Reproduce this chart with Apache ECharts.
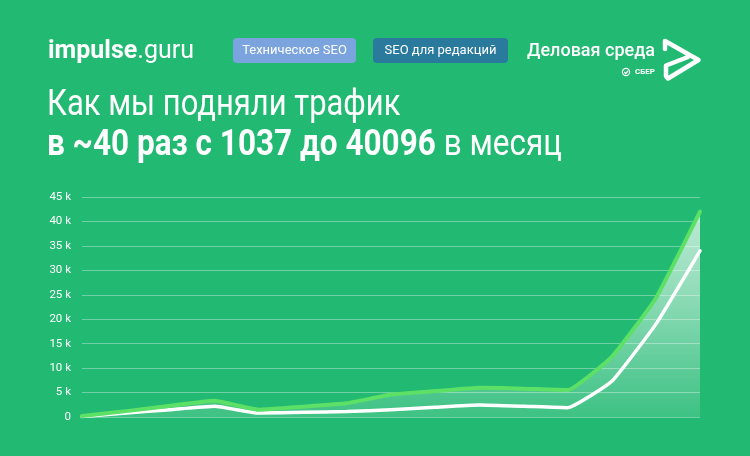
<!DOCTYPE html>
<html><head><meta charset="utf-8">
<script src="https://cdn.jsdelivr.net/npm/echarts@6/dist/echarts.min.js"></script>
<style>html,body{margin:0;padding:0;background:#22b972;}#c{width:750px;height:456px;}</style>
</head><body><div id="c"></div>
<script>
const categories = ['1','2','3','4','5','6','7','8','9','10','11','12','13','14','15'];
const trafficUpper = [200, 1200, 2300, 3300, 1500, 2100, 2800, 4600, 5300, 6000, 5800, 5500, 12300, 24300, 42000];
const trafficLower = [100, 800, 1500, 2200, 800, 950, 1100, 1500, 2000, 2450, 2200, 1900, 7300, 19000, 34000];
const yTicks = {min: 0, max: 45000, step: 5000};
const titleLine1 = 'Как мы подняли трафик';
const titleLine2Bold = 'в ~40 раз с 1037 до 40096';
const titleLine2Rest = ' в месяц';

const chart = echarts.init(document.getElementById('c'), null, {renderer: 'canvas'});
const F = 'Roboto, "Noto Sans", sans-serif';
chart.setOption({
  backgroundColor: '#22b972',
  animation: false,
  grid: {left: 82, right: 50, top: 197, bottom: 39},
  xAxis: {type: 'category', data: categories, boundaryGap: false, show: false},
  yAxis: {
    type: 'value', min: yTicks.min, max: yTicks.max, interval: yTicks.step,
    axisLine: {show: false}, axisTick: {show: false},
    splitLine: {lineStyle: {color: 'rgba(255,255,255,0.35)', width: 1}},
    axisLabel: {color: '#ffffff', fontSize: 11.5, fontFamily: F, margin: 11,
      formatter: v => v === 0 ? '0' : (v / 1000) + ' k'}
  },
  series: [
    {type: 'line', data: trafficUpper, smooth: 0.12, symbol: 'none', z: 3,
     lineStyle: {color: '#5ce065', width: 4, cap: 'round', join: 'round'},
     areaStyle: {origin: 'start', color: new echarts.graphic.LinearGradient(0, 0, 0, 1, [
       {offset: 0, color: 'rgba(255,255,255,1)'},
       {offset: 0.35, color: 'rgba(255,255,255,0.75)'},
       {offset: 1, color: 'rgba(255,255,255,0.18)'}])}},
    {type: 'line', data: trafficLower, smooth: 0.12, symbol: 'none', z: 2,
     lineStyle: {color: '#ffffff', width: 3.5, cap: 'round', join: 'round'}}
  ],
  graphic: [
    {type: 'text', x: 48, y: 39, style: {text: '{b|impulse}.guru', fill: '#fff', font: '25px ' + F,
      rich: {b: {fontWeight: 'bold', fontSize: 25, fontFamily: F, fill: '#fff'}}}},
    {type: 'rect', shape: {x: 233, y: 38, width: 123, height: 25, r: 4}, style: {fill: '#7ba3de'}},
    {type: 'text', x: 294.5, y: 50.5, style: {text: 'Техническое SEO', fill: '#fff', font: '13px ' + F, align: 'center', verticalAlign: 'middle'}},
    {type: 'rect', shape: {x: 373, y: 38, width: 135, height: 25, r: 4}, style: {fill: '#2a7a9e'}},
    {type: 'text', x: 440.5, y: 50.5, style: {text: 'SEO для редакций', fill: '#fff', font: '13px ' + F, align: 'center', verticalAlign: 'middle'}},
    {type: 'text', x: 655, y: 51, style: {text: 'Деловая среда', fill: '#fff', font: '500 18px ' + F, align: 'right', verticalAlign: 'middle'}},
    {type: 'text', x: 655, y: 72, style: {text: 'СБЕР', fill: '#fff', font: 'bold 8px ' + F, align: 'right', verticalAlign: 'middle'}},
    {type: 'circle', shape: {cx: 626, cy: 72, r: 3.6}, style: {fill: 'none', stroke: '#fff', lineWidth: 1.2}},
    {type: 'polyline', shape: {points: [[624.3, 72], [625.8, 73.5], [628.3, 70.6]]}, style: {fill: 'none', stroke: '#fff', lineWidth: 1.2}},
    {type: 'polyline', shape: {points: [[665, 49], [665, 41], [698.5, 60], [668, 78.5], [666, 76], [666, 65.5], [688, 57]]},
     style: {fill: 'none', stroke: '#fff', lineWidth: 4.5, lineJoin: 'round', lineCap: 'round'}},
    {type: 'text', x: 47, y: 88, scaleX: 0.86, style: {text: titleLine1, fill: '#fff', font: '36px ' + F}},
    {type: 'text', x: 47, y: 128, scaleX: 0.875, style: {text: '{b|' + titleLine2Bold + '}' + titleLine2Rest, fill: '#fff', font: '36px ' + F,
      rich: {b: {fontWeight: 'bold', fontSize: 36, fontFamily: F, fill: '#fff'}}}}
  ]
});
</script></body></html>
